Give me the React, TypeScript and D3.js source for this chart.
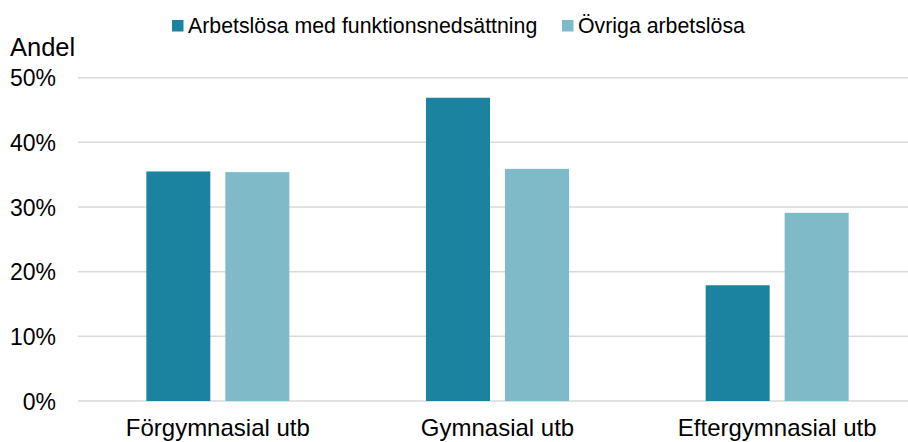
import React, { useEffect, useRef } from "react";
import { select, scaleBand, scaleLinear } from "d3";

const categories = ["Förgymnasial utb", "Gymnasial utb", "Eftergymnasial utb"];
const seriesNames = ["Arbetslösa med funktionsnedsättning", "Övriga arbetslösa"];
const withDisability = [0.355, 0.469, 0.179];
const otherUnemployed = [0.354, 0.359, 0.291];
const yTicks = [0, 0.1, 0.2, 0.3, 0.4, 0.5];

const width = 908;
const height = 442;
const colors = ["#1B83A0", "#7FBAC9"];
const font = "'Liberation Sans', Arial, sans-serif";

const App = () => {
  const svgRef = useRef<SVGSVGElement>(null);

  useEffect(() => {
    const svg = select(svgRef.current);
    svg.selectAll("*").remove();

    const left = 78;
    const right = 917;
    const top = 77.7;
    const bottom = 401;

    const x = scaleBand().domain(categories).range([left, right]);
    const y = scaleLinear().domain([0, 0.5]).range([bottom, top]);

    const barW = 64;
    const gap = 15;

    // grid
    svg.append("g")
      .selectAll("line")
      .data(yTicks)
      .join("line")
        .attr("x1", left)
        .attr("x2", width)
        .attr("y1", d => y(d))
        .attr("y2", d => y(d))
        .attr("stroke", "#D9D9D9")
        .attr("stroke-width", 1.5);

    // tick labels
    svg.append("g")
      .selectAll("text")
      .data(yTicks)
      .join("text")
        .attr("x", 56)
        .attr("y", d => y(d) + 8.5)
        .attr("text-anchor", "end")
        .style("font-size", "23px")
        .style("font-family", font)
        .attr("fill", "#000")
        .text(d => `${Math.round(d * 100)}%`);

    svg.append("text")
      .attr("x", 10)
      .attr("y", 56)
      .style("font-size", "25.5px")
      .style("font-family", font)
      .text("Andel");

    // bars
    const series = [withDisability, otherUnemployed];
    series.forEach((vals, si) => {
      svg.append("g")
        .attr("fill", colors[si])
        .selectAll("rect")
        .data(vals)
        .join("rect")
          .attr("x", (d, i) => {
            const c = x(categories[i])! + x.bandwidth() / 2;
            return si === 0 ? c - gap / 2 - barW : c + gap / 2;
          })
          .attr("y", d => y(d))
          .attr("width", barW)
          .attr("height", d => y(0) - y(d));
    });

    // category labels
    svg.append("g")
      .selectAll("text")
      .data(categories)
      .join("text")
        .attr("x", d => x(d)! + x.bandwidth() / 2)
        .attr("y", 436)
        .attr("text-anchor", "middle")
        .style("font-size", "24px")
        .style("font-family", font)
        .text(d => d);

    // legend
    const legendX = [172, 562];
    const legend = svg.append("g")
      .selectAll("g")
      .data(seriesNames)
      .join("g")
        .attr("transform", (d, i) => `translate(${legendX[i]}, 20)`);
    legend.append("rect")
      .attr("width", 11.5)
      .attr("height", 11.5)
      .attr("fill", (d, i) => colors[i]);
    legend.append("text")
      .attr("x", 16)
      .attr("y", 12.5)
      .style("font-size", "21.3px")
      .style("font-family", font)
      .text(d => d);
  }, []);

  return (
    <svg
      ref={svgRef}
      width={width}
      height={height}
      style={{ position: "absolute", left: 0, top: 0, background: "#fff" }}
    />
  );
};

export default App;
